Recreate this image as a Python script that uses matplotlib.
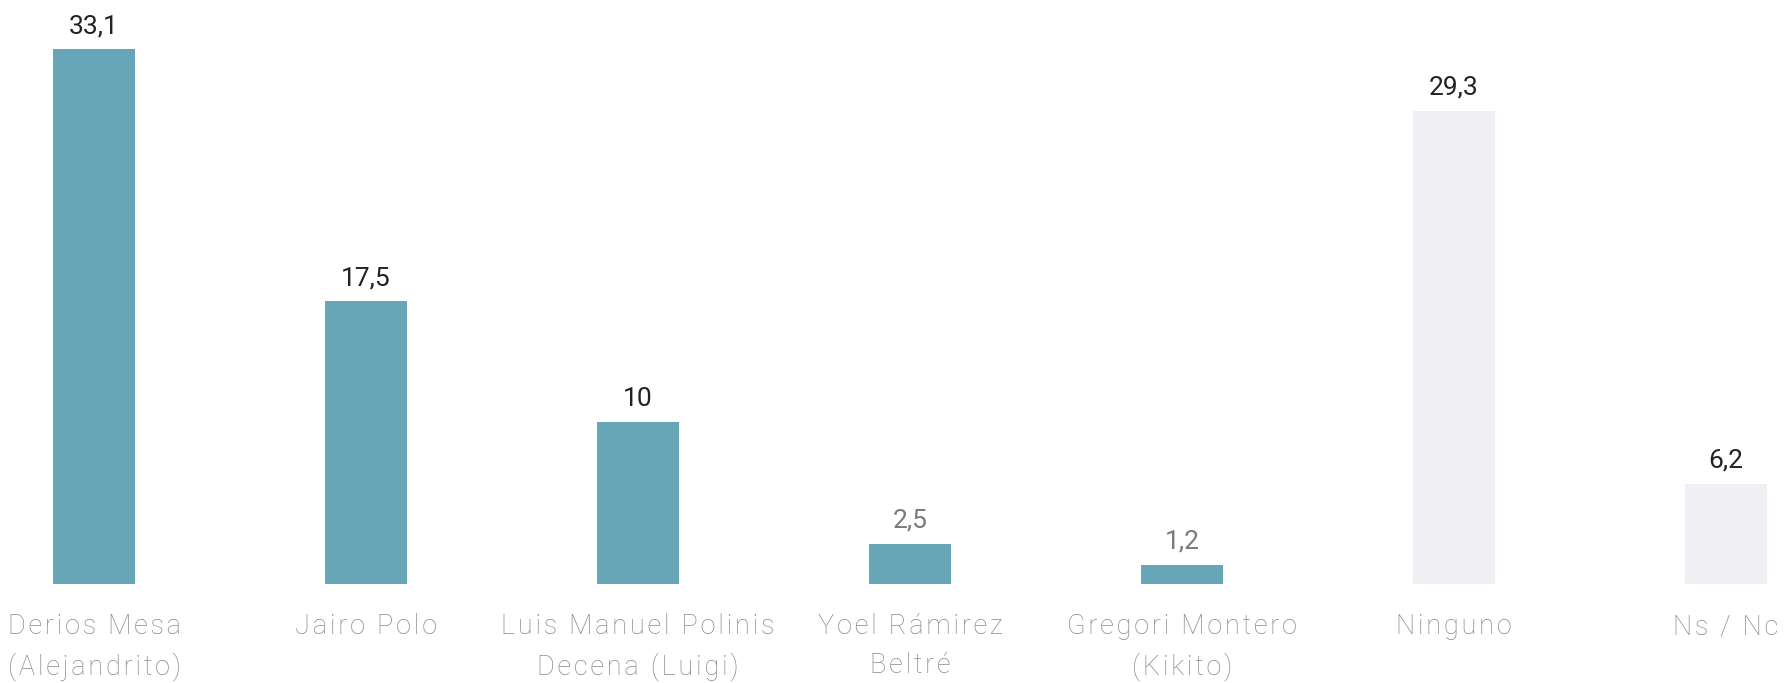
import numpy as np
import matplotlib
import matplotlib.pyplot as plt

matplotlib.use('Agg')

# datos
candidatos = ["Derios Mesa\n(Alejandrito)", "Jairo Polo", "Luis Manuel Polinis\nDecena (Luigi)",
              "Yoel Rámirez\nBeltré", "Gregori Montero\n(Kikito)", "Ninguno", "Ns / Nc"]
valores = [33.1, 17.5, 10, 2.5, 1.2, 29.3, 6.2]
etiquetas = ["33,1", "17,5", "10", "2,5", "1,2", "29,3", "6,2"]
colores = ["#67a6b6"] * 5 + ["#f0f0f4"] * 2
color_txt = ["#222222", "#222222", "#222222", "#7a7a7a", "#7a7a7a", "#222222", "#222222"]

plt.rcParams['font.family'] = ['Roboto', 'DejaVu Sans']


def espaciado(s):
    # simula el espaciado entre letras con espacios finos
    return "\n".join("\u200a".join(linea) for linea in s.split("\n"))


fig = plt.figure(figsize=(17.92, 6.83), dpi=100)
ax = fig.add_axes([0, 99 / 683, 1, 584 / 683])
x = np.arange(len(valores))
ax.bar(x, valores, width=0.30, color=colores)

for xi, v, t, c in zip(x, valores, etiquetas, color_txt):
    ax.annotate(t, (xi, v), xytext=(0, 11.5), textcoords="offset points",
                ha="center", va="baseline", fontsize=19, color=c)

ax.set_xlim(-94 / 272, 6 + 66 / 272)
ax.set_ylim(0, 36.15)
ax.set_xticks(x)
ax.set_xticklabels([espaciado(c) for c in candidatos], fontsize=19.5, color="#8a8a8a",
                   fontweight="light", linespacing=1.55)
ax.tick_params(axis="x", length=0, pad=21)
ax.set_yticks([])
for s in ax.spines.values():
    s.set_visible(False)

plt.savefig("out.png", dpi=100)
